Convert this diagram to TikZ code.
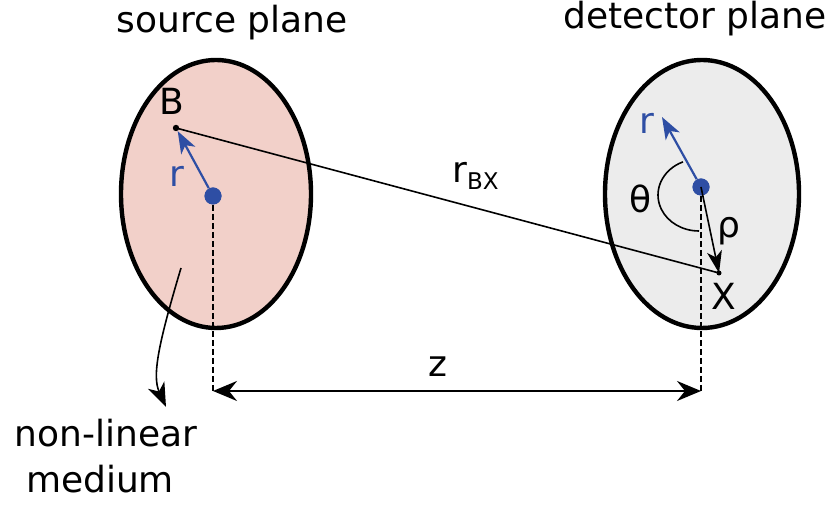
\documentclass[tikz,border=0pt]{standalone}
\usepackage{fontspec}
\setmainfont{DejaVu Sans}
\usepackage{xcolor}
\usetikzlibrary{arrows.meta,positioning}

\definecolor{srcpink}{RGB}{242,208,201}
\definecolor{detgray}{RGB}{236,236,236}
\definecolor{vecblue}{RGB}{46,78,164}

\begin{document}
\begin{tikzpicture}[x=0.5pt, y=-0.5pt,
  plane/.style={line width=2.2pt},
  cdot/.style={circle, fill=vecblue, inner sep=0pt, minimum size=8.5pt},
  bpoint/.style={circle, fill=black, inner sep=0pt, minimum size=3.2pt},
  lbl/.style={inner sep=0pt, font=\fontsize{18}{21}\selectfont},
  vec/.style={vecblue, line width=1.1pt, -{Stealth[length=11pt, width=8pt, inset=3pt]}},
  blackvec/.style={line width=0.8pt, -{Stealth[length=11pt, width=7.5pt, inset=3pt]}},
  guide/.style={line width=0.8pt, dash pattern=on 3pt off 1.5pt}]

\useasboundingbox (0,0) rectangle (835,506);

% Source plane
\draw[plane, fill=srcpink] (216,194) ellipse [x radius=95, y radius=134];
\node[lbl, anchor=base] (srcT) at (232,33) {source plane};

% Detector plane
\draw[plane, fill=detgray] (702,194) ellipse [x radius=97, y radius=134];
\node[lbl, anchor=base west] (detT) at (563,29) {detector plane};

% Centres and points
\node[cdot] (srcC) at (213,196) {};
\node[cdot] (detC) at (701,187) {};
\node[bpoint] (Bpt) at (176,128) {};
\node[bpoint, minimum size=2.5pt] (Xpt) at (719,273) {};
\coordinate (rtip) at (662,117);

% Guide lines down to the z arrow
\coordinate (zL) at (srcC |- 0,391);
\coordinate (zR) at (detC |- 0,391);
\draw[guide] (srcC.center) -- (zL);
\draw[guide] (detC.center) -- (zR);
\node[cdot] at (srcC) {};
\node[cdot] at (detC) {};

% r_BX line
\draw[line width=0.8pt] (Bpt.center) -- (Xpt.center);
\node[lbl, anchor=base west] (rbx) at (452,183) {r\raisebox{-3.5pt}{\fontsize{11.5}{12}\selectfont BX}};

% Vectors
\draw[vec] (srcC) -- (Bpt);
\draw[vec] (detC) -- (rtip);
\draw[blackvec] (detC.center) -- (Xpt.center);

% Angle theta
\draw[line width=0.8pt] ([shift={(247:41 and 36)}]699,195) arc [start angle=247, end angle=90, x radius=41, y radius=36];

% Labels
\node[lbl, anchor=base] (Blbl) at (172,115) {B};
\node[lbl, anchor=base, text=vecblue] (rsrc) at (177,187) {r};
\node[lbl, anchor=base, text=vecblue] (rdet) at (647,134) {r};
\node[lbl, anchor=base] (thlbl) at (641,213) {θ};
\node[lbl, anchor=base] (rholbl) at (729,238) {ρ};
\node[lbl, anchor=base] (Xlbl) at (724,310) {X};

% Distance z
\draw[line width=1.1pt, {Stealth[length=12pt, width=10pt, inset=4pt]}-{Stealth[length=12pt, width=10pt, inset=4pt]}] (zL) -- (zR);
\node[lbl, anchor=base] (zlbl) at (438,377) {z};

% Non-linear medium pointer
\coordinate (medpt) at (181,268);
\coordinate (medtip) at (166,407);
\draw[line width=0.8pt, -{Stealth[length=12pt, width=9pt, inset=3.5pt]}] (medpt) .. controls (158,345) and (152,376) .. (medtip);
\node[lbl, anchor=base] (nlm1) at (106,447) {non-linear};
\node[lbl, anchor=base] (nlm2) at (100,493) {medium};

\end{tikzpicture}
\end{document}
